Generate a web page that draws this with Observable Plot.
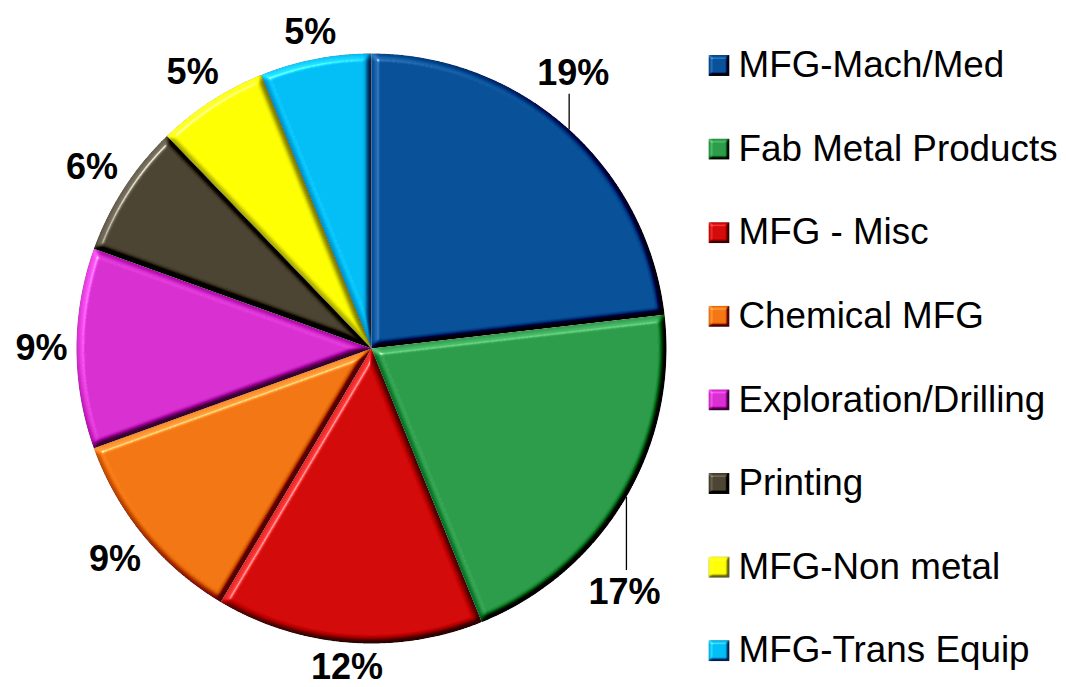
<!DOCTYPE html>
<html><head><meta charset="utf-8">
<script src="https://cdn.jsdelivr.net/npm/d3@7"></script>
<script src="https://cdn.jsdelivr.net/npm/@observablehq/plot@0.6"></script>
<style>html,body{margin:0;padding:0;background:#fff}#chart{width:1066px;height:687px}</style>
</head><body><div id="chart"></div>
<script>
// ---- data ----
const categories = ["MFG-Mach/Med", "Fab Metal Products", "MFG - Misc", "Chemical MFG", "Exploration/Drilling", "Printing", "MFG-Non metal", "MFG-Trans Equip"];
const shares = [19, 17, 12, 9, 9, 6, 5, 5];
const percentLabels = ["19%", "17%", "12%", "9%", "9%", "6%", "5%", "5%"];
const colors = ["#064E96", "#2B9A48", "#D00808", "#F07412", "#D62DCF", "#494231", "#FFFF00", "#00BCF2"];

// ---- layout (pixels) ----
const W = 1066, H = 687, CX = 371, CY = 348, R = 295;
const FONT = "Liberation Sans, Arial, Helvetica, sans-serif";
const LABEL_SIZE = 36, LABEL_GAP = 9, CAP_H = 26;
const labelNudge = {"MFG-Mach/Med": [-23, 22.7], "Fab Metal Products": [-40.7, -69]};
const leaderCats = ["MFG-Mach/Med", "Fab Metal Products"];
const LEG_SQ_X = 718.5 - CX, LEG_TX_X = 738 - CX, LEG_TOP = 65, LEG_STEP = 83.6, LEG_SIZE = 36.8;

const rows = categories.map((c, i) => ({cat: c, share: shares[i], label: percentLabels[i], i}));
const arcs = d3.pie().sort(null).value(d => d.share)(rows);

// slice polygons (center + arc)
const slicePts = [];
for (const a of arcs) {
  slicePts.push({cat: a.data.cat, x: 0, y: 0});
  const n = Math.max(2, Math.ceil((a.endAngle - a.startAngle) / (Math.PI / 720)));
  for (let k = 0; k <= n; k++) {
    const t = a.startAngle + (a.endAngle - a.startAngle) * k / n;
    slicePts.push({cat: a.data.cat, x: R * Math.sin(t), y: R * Math.cos(t)});
  }
}

// percentage labels outside the pie
const labels = arcs.map(a => {
  const m = (a.startAngle + a.endAngle) / 2;
  const txt = a.data.label;
  const w = ((txt.length - 1) * 0.556 + 0.889) * LABEL_SIZE;
  const r = R + LABEL_GAP + Math.abs(Math.sin(m)) * w / 2 + Math.abs(Math.cos(m)) * CAP_H / 2;
  let x = r * Math.sin(m), y = r * Math.cos(m);
  const nd = labelNudge[a.data.cat];
  if (nd) { x += nd[0]; y += nd[1]; }
  return {cat: a.data.cat, text: txt, x, y};
});

// leader lines for moved labels
const leaders = labels.filter(l => leaderCats.includes(l.cat)).map(l => {
  const up = l.y > 0;
  const lx = l.x + (up ? -4 : 2);
  const ye = Math.sqrt(R * R - lx * lx) * (up ? 1 : -1);
  return {x1: lx, y1: ye, x2: lx, y2: l.y + (up ? -20 : 22)};
});

const legendRows = rows.map(d => ({...d, ly: CY - (LEG_TOP + d.i * LEG_STEP)}));

const chart = Plot.plot({
  width: W, height: H, margin: 0,
  x: {domain: [-CX, W - CX], axis: null},
  y: {domain: [CY - H, CY], axis: null},
  color: {domain: categories, range: colors},
  style: {fontFamily: FONT, background: "#fff", overflow: "visible"},
  marks: [
    Plot.line(slicePts, {x: "x", y: "y", z: "cat", fill: "cat", stroke: "#2a2a2a", strokeOpacity: 0.2, strokeWidth: 0.6}),
    Plot.link(leaders, {x1: "x1", y1: "y1", x2: "x2", y2: "y2", stroke: "#000", strokeWidth: 1.3}),
    Plot.text(labels, {x: "x", y: "y", text: "text", fontSize: LABEL_SIZE, fontWeight: "bold", fill: "#000", fontFamily: FONT}),
    Plot.dot(legendRows, {x: () => LEG_SQ_X, y: "ly", symbol: "square", r: 11.8, fill: "cat", stroke: "none"}),
    Plot.text(legendRows, {x: () => LEG_TX_X, y: "ly", text: "cat", textAnchor: "start", fontSize: LEG_SIZE, fill: "#000", fontFamily: FONT})
  ]
});

// bevel effect (diffuse shading + specular ridge)
const defs = d3.select(chart).insert("defs", ":first-child");
const bevel = (id, sd, ss, pad) => `
<filter id="${id}" x="-${pad}%" y="-${pad}%" width="${100 + 2 * pad}%" height="${100 + 2 * pad}%" color-interpolation-filters="sRGB">
  <feGaussianBlur in="SourceAlpha" stdDeviation="${sd}" result="b"/>
  <feDiffuseLighting in="b" surfaceScale="${ss}" diffuseConstant="1" lighting-color="#fff" result="d">
    <feDistantLight azimuth="225" elevation="50"/>
  </feDiffuseLighting>
  <feComposite in="SourceGraphic" in2="d" operator="arithmetic" k1="0" k2="1" k3="0.8" k4="-0.613" result="c"/>
  <feSpecularLighting in="b" surfaceScale="${ss}" specularConstant="0.55" specularExponent="60" lighting-color="#fff" result="s">
    <feDistantLight azimuth="225" elevation="50"/>
  </feSpecularLighting>
  <feComposite in="c" in2="s" operator="arithmetic" k1="0" k2="1" k3="1" k4="0" result="cs"/>
  <feComposite in="cs" in2="SourceAlpha" operator="in"/>
</filter>`;
defs.html(bevel("bevel", 3.2, 8, 5) + bevel("bevelSmall", 1.8, 5, 20));
d3.select(chart).selectAll('g[aria-label="line"] path').attr("filter", "url(#bevel)");
d3.select(chart).selectAll('g[aria-label="dot"] path').attr("filter", "url(#bevelSmall)");

document.getElementById("chart").appendChild(chart);
</script>
</body></html>
